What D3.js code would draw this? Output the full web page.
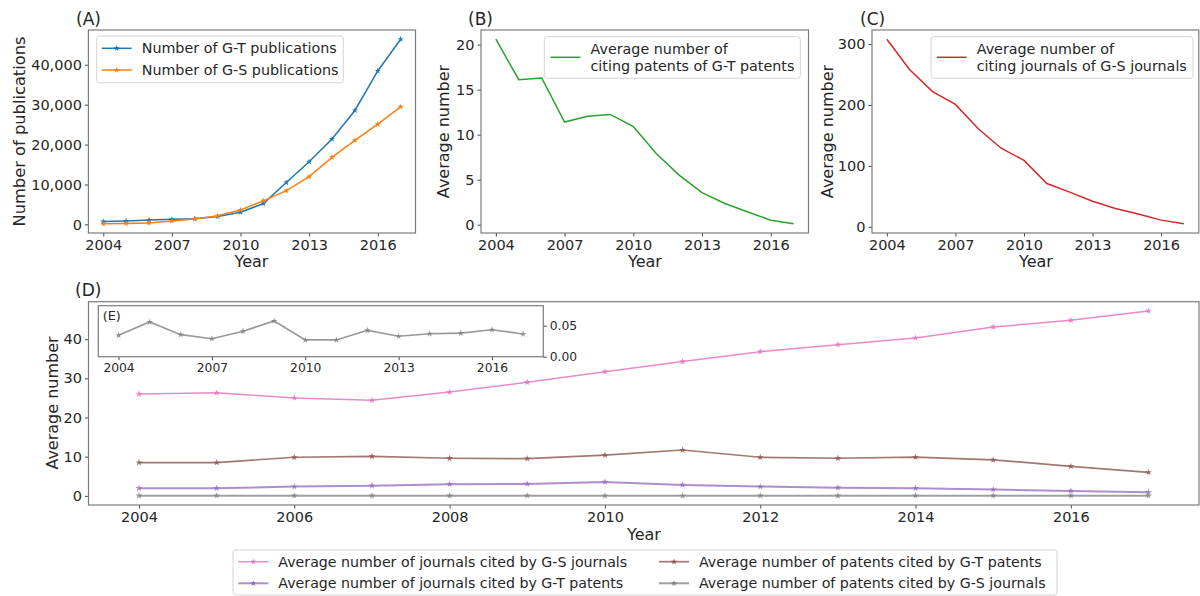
<!DOCTYPE html>
<html><head><meta charset="utf-8">
<script src="https://cdn.jsdelivr.net/npm/d3@7"></script>
<style>
body{margin:0;background:#fff;}
svg{display:block;font-family:"DejaVu Sans",sans-serif;}
</style></head><body>
<svg id="chart" width="1200" height="596"></svg>
<script>
// ---------- data ----------
const years = [2004,2005,2006,2007,2008,2009,2010,2011,2012,2013,2014,2015,2016,2017];
const gtPublications = [700,850,1100,1300,1400,1950,3050,5200,10500,15700,21400,28550,38450,46400];
const gsPublications = [150,200,350,850,1350,2150,3600,5900,8450,11950,16800,21050,25100,29450];
const citingPatentsOfGTPatents = [20.6,16.1,16.3,11.4,12.05,12.25,10.9,7.9,5.5,3.55,2.35,1.4,0.5,0.1];
const citingJournalsOfGSJournals = [308,258,222,201,161,129,109,71,57,42,30,21,11,5];
const journalsCitedByGSJournals = [26.0,26.3,25.0,24.4,26.5,29.0,31.7,34.3,36.8,38.6,40.3,43.1,44.8,47.2];
const patentsCitedByGTPatents = [8.5,8.5,9.85,10.1,9.6,9.5,10.4,11.7,9.85,9.6,9.9,9.2,7.55,6.0];
const journalsCitedByGTPatents = [1.95,1.95,2.37,2.6,2.97,3.05,3.56,2.8,2.37,2.1,1.95,1.6,1.27,0.94];
const patentsCitedByGSJournals = [0.0345,0.056,0.0355,0.029,0.041,0.0576,0.027,0.027,0.0426,0.033,0.037,0.038,0.0435,0.0366];

const xTicksSmall = [2004,2007,2010,2013,2016];
const xTicksD = [2004,2006,2008,2010,2012,2014,2016];
const yTicksA = [0,10000,20000,30000,40000];
const yTicksB = [0,5,10,15,20];
const yTicksC = [0,100,200,300];
const yTicksD = [0,10,20,30,40];
const yTicksE = [0,0.05];

const C = {blue:"#1f77b4",orange:"#ff7f0e",green:"#2ca02c",red:"#d62728",
           purple:"#9467bd",brown:"#8c564b",pink:"#e377c2",gray:"#7f7f7f"};

// ---------- helpers ----------
const svg = d3.select("#chart");
const FRAME = "#7c7c7c", TXT = "#262626";
function pad(ext,f=0.05){const d=(ext[1]-ext[0])*f;return [ext[0]-d,ext[1]+d];}
function zip(arr){return years.map((yr,i)=>({year:yr,v:arr[i]}));}

function styleAxis(sel,fs){
  sel.select(".domain").remove();
  sel.attr("font-family",null).attr("font-size",null);
  sel.selectAll(".tick line").attr("stroke","#333").attr("stroke-width",0.9);
  sel.selectAll(".tick text").attr("fill",TXT).style("font-size",fs+"px")
     .style("font-family","'DejaVu Sans',sans-serif");
}

function panel(cfg){
  const g = svg.append("g");
  const x = d3.scaleLinear().domain(pad(d3.extent(years))).range([cfg.left,cfg.right]);
  const y = d3.scaleLinear().domain(cfg.yDomain).range([cfg.bottom,cfg.top]);
  if(cfg.bg) g.append("rect").attr("x",cfg.left).attr("y",cfg.top)
      .attr("width",cfg.right-cfg.left).attr("height",cfg.bottom-cfg.top).attr("fill","#fff");
  const fs = cfg.fs || 14.5;
  g.append("g").attr("transform",`translate(0,${cfg.bottom})`)
    .call(d3.axisBottom(x).tickValues(cfg.xTicks).tickFormat(d3.format("d")).tickSize(3.5).tickPadding(3.5))
    .call(s=>styleAxis(s,fs));
  if(cfg.rightAxis){
    g.append("g").attr("transform",`translate(${cfg.right},0)`)
      .call(d3.axisRight(y).tickValues(cfg.yTicks).tickFormat(cfg.yFormat).tickSize(3.5).tickPadding(3))
      .call(s=>styleAxis(s,fs));
  } else {
    g.append("g").attr("transform",`translate(${cfg.left},0)`)
      .call(d3.axisLeft(y).tickValues(cfg.yTicks).tickFormat(cfg.yFormat).tickSize(3.5).tickPadding(3))
      .call(s=>styleAxis(s,fs));
  }
  g.append("rect").attr("x",cfg.left).attr("y",cfg.top)
    .attr("width",cfg.right-cfg.left).attr("height",cfg.bottom-cfg.top)
    .attr("fill","none").attr("stroke",FRAME).attr("stroke-width",1.2);
  return {g,x,y};
}

function series(p,arr,color,opts={}){
  const data = zip(arr);
  p.g.append("path").datum(data).attr("fill","none").attr("stroke",color)
    .attr("stroke-width",opts.lw||1.5).attr("stroke-opacity",opts.op||1)
    .attr("d",d3.line().x(d=>p.x(d.year)).y(d=>p.y(d.v)));
  if(opts.marker){
    p.g.selectAll(null).data(data).join("path")
      .attr("transform",d=>`translate(${p.x(d.year)},${p.y(d.v)})`)
      .attr("d",d3.symbol(d3.symbolStar,opts.ms||14)).attr("fill",color).attr("fill-opacity",opts.op||1);
  }
}

function label(txt,x,y,fs,opts={}){
  const t = svg.append("text").attr("x",x).attr("y",y).attr("fill",TXT)
    .style("font-size",fs+"px").attr("text-anchor",opts.anchor||"start").text(txt);
  if(opts.rotate) t.attr("transform",`rotate(-90,${x},${y})`).attr("dominant-baseline","central");
  return t;
}

function legendBox(x,y,w,h){
  svg.append("rect").attr("x",x).attr("y",y).attr("width",w).attr("height",h)
    .attr("rx",3).attr("fill","#fff").attr("fill-opacity",0.8)
    .attr("stroke","#d4d4d4").attr("stroke-width",1);
}
function legendItem(x,y,color,text,fs,marker,lw,op){
  svg.append("line").attr("x1",x).attr("x2",x+30).attr("y1",y).attr("y2",y)
    .attr("stroke",color).attr("stroke-width",lw||1.5).attr("stroke-opacity",op||1);
  if(marker) svg.append("path").attr("transform",`translate(${x+15},${y})`)
    .attr("d",d3.symbol(d3.symbolStar,12)).attr("fill",color);
  const lines = Array.isArray(text)?text:[text];
  const lh = fs*1.17;
  lines.forEach((t,i)=>{
    svg.append("text").attr("x",x+40).attr("y",y+(i-(lines.length-1)/2)*lh)
      .attr("dominant-baseline","central").attr("fill",TXT).style("font-size",fs+"px").text(t);
  });
}

// ---------- Panel A ----------
const pA = panel({left:88.4,right:415.5,top:30,bottom:233,xTicks:xTicksSmall,yTicks:yTicksA,
  yFormat:d3.format(","),yDomain:pad(d3.extent(gtPublications.concat(gsPublications)))});
series(pA,gtPublications,C.blue,{marker:true,ms:12});
series(pA,gsPublications,C.orange,{marker:true,ms:12});
label("(A)",76,24.5,17);
label("Number of publications",19,131.5,16.3,{rotate:true,anchor:"middle"});
label("Year",251.5,267,16,{anchor:"middle"});
legendBox(96.7,36,246.6,46.7);
legendItem(101.7,48.3,C.blue,"Number of G-T publications",14.3,true);
legendItem(101.7,70,C.orange,"Number of G-S publications",14.3,true);

// ---------- Panel B ----------
const pB = panel({left:481,right:808.5,top:30,bottom:233,xTicks:xTicksSmall,yTicks:yTicksB,
  yFormat:d3.format("d"),yDomain:pad(d3.extent(citingPatentsOfGTPatents))});
series(pB,citingPatentsOfGTPatents,C.green);
label("(B)",468,24.5,17);
label("Average number",443,131.5,16,{rotate:true,anchor:"middle"});
label("Year",645,267,16,{anchor:"middle"});
legendBox(544.3,36.7,256,41.6);
legendItem(550.5,57.3,C.green,["Average number of","citing patents of G-T patents"],14.3,false);

// ---------- Panel C ----------
const pC = panel({left:872,right:1198.8,top:30,bottom:233,xTicks:xTicksSmall,yTicks:yTicksC,
  yFormat:d3.format("d"),yDomain:pad(d3.extent(citingJournalsOfGSJournals))});
series(pC,citingJournalsOfGSJournals,C.red);
label("(C)",860,24.5,17);
label("Average number",827,131.5,16,{rotate:true,anchor:"middle"});
label("Year",1036,267,16,{anchor:"middle"});
legendBox(931,36.7,262,41.6);
legendItem(936.7,57.3,C.red,["Average number of","citing journals of G-S journals"],14.3,false);

// ---------- Panel D ----------
const allD = journalsCitedByGSJournals.concat(patentsCitedByGTPatents,journalsCitedByGTPatents,patentsCitedByGSJournals);
const pD = panel({left:88.5,right:1199,top:301.7,bottom:505,xTicks:xTicksD,yTicks:yTicksD,
  yFormat:d3.format("d"),yDomain:pad(d3.extent(allD))});
series(pD,journalsCitedByGSJournals,C.pink,{marker:true,ms:15,lw:1.5,op:0.85});
series(pD,patentsCitedByGTPatents,C.brown,{marker:true,ms:15,lw:1.7,op:0.8});
series(pD,journalsCitedByGTPatents,C.purple,{marker:true,ms:15,lw:2,op:0.75});
series(pD,patentsCitedByGSJournals,C.gray,{marker:true,ms:15,lw:2,op:0.75});
label("(D)",75,296,17);
label("Average number",52,403,16,{rotate:true,anchor:"middle"});
label("Year",644,540,16,{anchor:"middle"});

// ---------- Inset E ----------
const pE = panel({left:98.3,right:543.3,top:305.7,bottom:356.7,xTicks:xTicksSmall,yTicks:yTicksE,
  yFormat:d3.format(".2f"),yDomain:[0,0.0823],rightAxis:true,bg:true,fs:12.3});
series(pE,patentsCitedByGSJournals,C.gray,{marker:true,ms:14,lw:1.7,op:0.8});
label("(E)",102.7,320,12.7);

// ---------- Legend D ----------
legendBox(233,550,824,45);
legendItem(238.3,561.7,C.pink,"Average number of journals cited by G-S journals",14.2,true,1.5,0.85);
legendItem(238.3,583.3,C.purple,"Average number of journals cited by G-T patents",14.2,true,2,0.75);
legendItem(659,561.7,C.brown,"Average number of patents cited by G-T patents",14.2,true,1.7,0.8);
legendItem(659,583.3,C.gray,"Average number of patents cited by G-S journals",14.2,true,2,0.75);
</script>
</body></html>
